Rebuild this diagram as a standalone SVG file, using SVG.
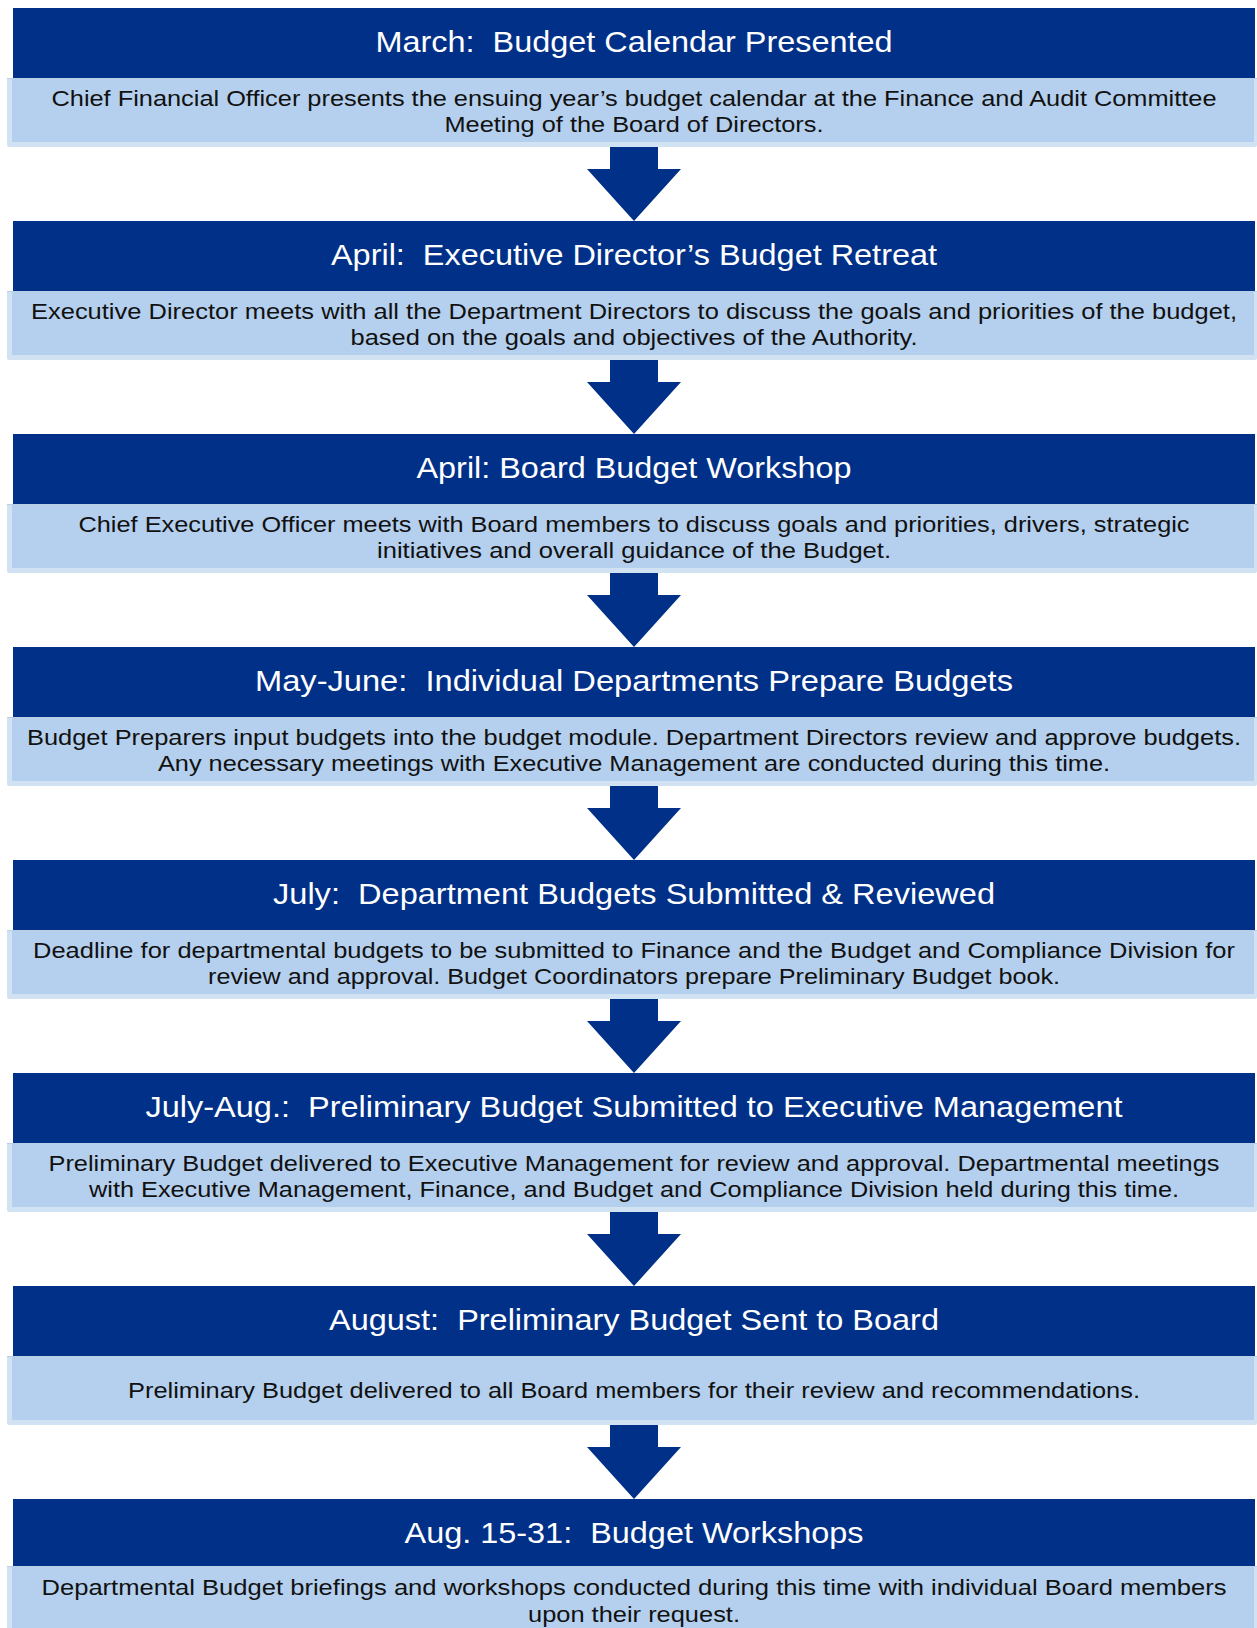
<svg xmlns="http://www.w3.org/2000/svg" width="1257" height="1628" viewBox="0 0 1257 1628" xml:space="preserve">
<defs>
<style>
.hd{fill:#003087}
.lo{fill:#d1e2f3}
.li{fill:#b4d0ee}
.lt{fill:#b9cde4}
.h{font-family:"Liberation Sans",Arial,sans-serif;font-size:30px;fill:#ffffff;text-anchor:middle;white-space:pre}
.b{font-family:"Liberation Sans",Arial,sans-serif;font-size:22px;fill:#111111;text-anchor:middle;white-space:pre}
.ar{fill:#003087}
</style>
</defs>
<rect width="1257" height="1628" fill="#ffffff"/>
<g id="connectors">
<polygon class="ar" points="610,143 658,143 658,169 681,169 634,221 587,169 610,169"/>
<polygon class="ar" points="610,356 658,356 658,382 681,382 634,434 587,382 610,382"/>
<polygon class="ar" points="610,569 658,569 658,595 681,595 634,647 587,595 610,595"/>
<polygon class="ar" points="610,782 658,782 658,808 681,808 634,860 587,808 610,808"/>
<polygon class="ar" points="610,995 658,995 658,1021 681,1021 634,1073 587,1021 610,1021"/>
<polygon class="ar" points="610,1208 658,1208 658,1234 681,1234 634,1286 587,1234 610,1234"/>
<polygon class="ar" points="610,1421 658,1421 658,1447 681,1447 634,1499 587,1447 610,1447"/>
</g>
<g id="node1">
<rect class="hd" x="13" y="8" width="1242" height="70"/>
<rect class="lo" x="7" y="78" width="1250" height="69" rx="2"/>
<rect class="li" x="12" y="78" width="1242" height="64"/>
<rect class="lt" x="7" y="78" width="1250" height="1"/>
<text class="h" x="634" y="52" textLength="517" lengthAdjust="spacingAndGlyphs">March:  Budget Calendar Presented</text>
<text class="b" x="634" y="106" textLength="1165" lengthAdjust="spacingAndGlyphs">Chief Financial Officer presents the ensuing year’s budget calendar at the Finance and Audit Committee</text>
<text class="b" x="634" y="132" textLength="379" lengthAdjust="spacingAndGlyphs">Meeting of the Board of Directors.</text>
</g>
<g id="node2">
<rect class="hd" x="13" y="221" width="1242" height="70"/>
<rect class="lo" x="7" y="291" width="1250" height="69" rx="2"/>
<rect class="li" x="12" y="291" width="1242" height="64"/>
<rect class="lt" x="7" y="291" width="1250" height="1"/>
<text class="h" x="634" y="265" textLength="606" lengthAdjust="spacingAndGlyphs">April:  Executive Director’s Budget Retreat</text>
<text class="b" x="634" y="319" textLength="1206" lengthAdjust="spacingAndGlyphs">Executive Director meets with all the Department Directors to discuss the goals and priorities of the budget,</text>
<text class="b" x="634" y="345" textLength="567" lengthAdjust="spacingAndGlyphs">based on the goals and objectives of the Authority.</text>
</g>
<g id="node3">
<rect class="hd" x="13" y="434" width="1242" height="70"/>
<rect class="lo" x="7" y="504" width="1250" height="69" rx="2"/>
<rect class="li" x="12" y="504" width="1242" height="64"/>
<rect class="lt" x="7" y="504" width="1250" height="1"/>
<text class="h" x="634" y="478" textLength="435" lengthAdjust="spacingAndGlyphs">April: Board Budget Workshop</text>
<text class="b" x="634" y="532" textLength="1111" lengthAdjust="spacingAndGlyphs">Chief Executive Officer meets with Board members to discuss goals and priorities, drivers, strategic</text>
<text class="b" x="634" y="558" textLength="514" lengthAdjust="spacingAndGlyphs">initiatives and overall guidance of the Budget.</text>
</g>
<g id="node4">
<rect class="hd" x="13" y="647" width="1242" height="70"/>
<rect class="lo" x="7" y="717" width="1250" height="69" rx="2"/>
<rect class="li" x="12" y="717" width="1242" height="64"/>
<rect class="lt" x="7" y="717" width="1250" height="1"/>
<text class="h" x="634" y="691" textLength="758" lengthAdjust="spacingAndGlyphs">May-June:  Individual Departments Prepare Budgets</text>
<text class="b" x="634" y="745" textLength="1214" lengthAdjust="spacingAndGlyphs">Budget Preparers input budgets into the budget module. Department Directors review and approve budgets.</text>
<text class="b" x="634" y="771" textLength="952" lengthAdjust="spacingAndGlyphs">Any necessary meetings with Executive Management are conducted during this time.</text>
</g>
<g id="node5">
<rect class="hd" x="13" y="860" width="1242" height="70"/>
<rect class="lo" x="7" y="930" width="1250" height="69" rx="2"/>
<rect class="li" x="12" y="930" width="1242" height="64"/>
<rect class="lt" x="7" y="930" width="1250" height="1"/>
<text class="h" x="634" y="904" textLength="722" lengthAdjust="spacingAndGlyphs">July:  Department Budgets Submitted &amp; Reviewed</text>
<text class="b" x="634" y="958" textLength="1202" lengthAdjust="spacingAndGlyphs">Deadline for departmental budgets to be submitted to Finance and the Budget and Compliance Division for</text>
<text class="b" x="634" y="984" textLength="852" lengthAdjust="spacingAndGlyphs">review and approval. Budget Coordinators prepare Preliminary Budget book.</text>
</g>
<g id="node6">
<rect class="hd" x="13" y="1073" width="1242" height="70"/>
<rect class="lo" x="7" y="1143" width="1250" height="69" rx="2"/>
<rect class="li" x="12" y="1143" width="1242" height="64"/>
<rect class="lt" x="7" y="1143" width="1250" height="1"/>
<text class="h" x="634" y="1117" textLength="977" lengthAdjust="spacingAndGlyphs">July-Aug.:  Preliminary Budget Submitted to Executive Management</text>
<text class="b" x="634" y="1171" textLength="1171" lengthAdjust="spacingAndGlyphs">Preliminary Budget delivered to Executive Management for review and approval. Departmental meetings</text>
<text class="b" x="634" y="1197" textLength="1090" lengthAdjust="spacingAndGlyphs">with Executive Management, Finance, and Budget and Compliance Division held during this time.</text>
</g>
<g id="node7">
<rect class="hd" x="13" y="1286" width="1242" height="70"/>
<rect class="lo" x="7" y="1356" width="1250" height="69" rx="2"/>
<rect class="li" x="12" y="1356" width="1242" height="64"/>
<rect class="lt" x="7" y="1356" width="1250" height="1"/>
<text class="h" x="634" y="1330" textLength="610" lengthAdjust="spacingAndGlyphs">August:  Preliminary Budget Sent to Board</text>
<text class="b" x="634" y="1398" textLength="1012" lengthAdjust="spacingAndGlyphs">Preliminary Budget delivered to all Board members for their review and recommendations.</text>
</g>
<g id="node8">
<rect class="hd" x="13" y="1499" width="1242" height="67"/>
<rect class="lo" x="7" y="1566" width="1250" height="69" rx="2"/>
<rect class="li" x="12" y="1566" width="1242" height="64"/>
<rect class="lt" x="7" y="1566" width="1250" height="1"/>
<text class="h" x="634" y="1543" textLength="459" lengthAdjust="spacingAndGlyphs">Aug. 15-31:  Budget Workshops</text>
<text class="b" x="634" y="1595" textLength="1185" lengthAdjust="spacingAndGlyphs">Departmental Budget briefings and workshops conducted during this time with individual Board members</text>
<text class="b" x="634" y="1622" textLength="212" lengthAdjust="spacingAndGlyphs">upon their request.</text>
</g>
</svg>
